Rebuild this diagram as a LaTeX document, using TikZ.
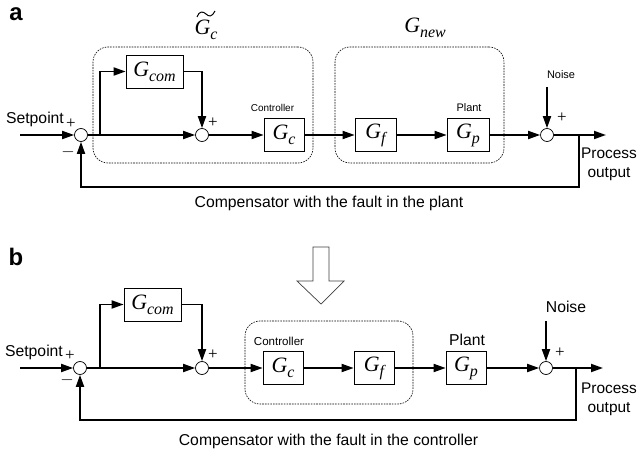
\documentclass[tikz,border=0pt]{standalone}
\usepackage{fontspec}
\setmainfont{Liberation Sans}
\newfontfamily\tms{Liberation Serif}
\usetikzlibrary{arrows.meta,calc}
\newcommand{\Gblk}[1]{{\tms\itshape\fontsize{22}{22}\selectfont G\raisebox{-5bp}{\fontsize{16}{16}\selectfont #1}}}
\newcommand{\txt}[1]{\fontsize{#1}{#1}\selectfont}
\begin{document}
\begin{tikzpicture}[x=1bp,y=-1bp,
  blk/.style={draw,line width=0.7bp,minimum height=33bp,inner sep=0pt},
  sumn/.style={draw,circle,line width=0.7bp,minimum size=13bp,inner sep=0pt,fill=white},
  sig/.style={line width=1.8bp,-{Triangle[length=12bp,width=8bp]}},
  dbox/.style={draw,dash pattern=on 1.6bp off 1.1bp,line width=0.6bp,rounded corners=15bp,inner sep=0pt},
  lbl/.style={inner sep=0pt,font=\txt{15.8}},
  two/.style={inner sep=0pt,align=center,font=\fontsize{15.5}{19}\selectfont},
  pm/.style={inner sep=0pt,font=\tms\fontsize{17}{17}\selectfont},
  panel/.style={inner sep=0pt,font=\bfseries\txt{24}}]
\clip (0,0) rectangle (638,453);
\fill[white] (0,0) rectangle (638,453);
% ---------------- panel a ----------------
\node[panel] (pa) at (16,14) {a};
\node[dbox,minimum width=220bp,minimum height=116bp] (abox1) at (203,105) {};
\node[dbox,minimum width=169bp,minimum height=116bp] (abox2) at (419.5,105) {};
\node[inner sep=0pt] (agt) at (206,30) {\Gblk{c}};
\draw[line width=1bp] (197,17) .. controls (199,11) and (203,11) .. (206,14) .. controls (209,17) and (212,17) .. (215,11);
\node[inner sep=0pt] (agn) at (425,28) {\Gblk{new}};
\coordinate (ain) at (20,135);
\node[sumn] (a1) at (81,135) {};
\coordinate (abr) at (100,135);
\node[blk,minimum width=57bp] (agcom) at (154.5,71.5) {\Gblk{com}};
\node[sumn] (a2) at (202,135) {};
\node[blk,minimum width=40bp] (agc) at (284,135) {\Gblk{c}};
\node[blk,minimum width=41bp] (agf) at (375.5,135) {\Gblk{f}};
\node[blk,minimum width=42bp] (agp) at (468,135) {\Gblk{p}};
\node[sumn] (a3) at (547,135) {};
\coordinate (aout) at (579,135);
\coordinate (aend) at (606,135);
\coordinate (anz) at (547,87);
\coordinate (afb) at (81,187);
\node[lbl] (asp) at (35,119) {Setpoint};
\node[pm] (ap1) at (71,124) {+};
\node[pm] (am1) at (68,152) {$-$};
\node[pm] (ap2) at (213,123) {+};
\node[pm] (ap3) at (562,118) {+};
\node[inner sep=0pt,font=\txt{10}] (actl) at (272.5,108) {Controller};
\node[inner sep=0pt,font=\txt{11}] (aplt) at (469,108) {Plant};
\node[inner sep=0pt,font=\txt{11}] (anoi) at (561,75) {Noise};
\node[two] (apo) at (609,164) {Process\\output};
\node[lbl] (acap) at (329,203) {Compensator with the fault in the plant};
\draw[sig] (ain) -- (a1);
\draw[sig] (a1) -- (a2);
\draw[sig] (abr) |- (agcom);
\draw[sig] (agcom) -| (a2);
\draw[sig] (a2) -- (agc);
\draw[sig] (agc) -- (agf);
\draw[sig] (agf) -- (agp);
\draw[sig] (agp) -- (a3);
\draw[sig] (a3) -- (aend);
\draw[sig] (anz) -- (a3);
\draw[sig] (aout) |- (afb) -- (a1);
% ---------------- arrow between ----------------
\draw[line width=0.7bp,draw=black!75] (313,247) -- (329,247) -- (329,281) -- (344,281) -- (321,304) -- (297,281) -- (313,281) -- cycle;
% ---------------- panel b ----------------
\node[panel] (pb) at (16,257) {b};
\node[dbox,minimum width=168bp,minimum height=83bp] (bbox) at (329,362.5) {};
\coordinate (bin) at (20,368);
\node[sumn] (b1) at (80,368) {};
\coordinate (bbr) at (100,368);
\node[blk,minimum width=57bp] (bgcom) at (152.5,304.5) {\Gblk{com}};
\node[sumn] (b2) at (202,368) {};
\node[blk,minimum width=40bp] (bgc) at (283,368) {\Gblk{c}};
\node[blk,minimum width=40bp] (bgf) at (374,368) {\Gblk{f}};
\node[blk,minimum width=40bp] (bgp) at (466,368) {\Gblk{p}};
\node[sumn] (b3) at (546,368) {};
\coordinate (bout) at (576,368);
\coordinate (bend) at (603,368);
\coordinate (bnz) at (546,321);
\coordinate (bfb) at (80,420);
\node[lbl] (bsp) at (34,352) {Setpoint};
\node[pm] (bp1) at (70,356) {+};
\node[pm] (bm1) at (67,380) {$-$};
\node[pm] (bp2) at (213,355) {+};
\node[pm] (bp3) at (560,353) {+};
\node[inner sep=0pt,font=\txt{11.6}] (bctl) at (279,341) {Controller};
\node[lbl] (bplt) at (467,340) {Plant};
\node[lbl] (bnoi) at (566,307) {Noise};
\node[two] (bpo) at (609,399) {Process\\output};
\node[lbl] (bcap) at (328.5,441) {Compensator with the fault in the controller};
\draw[sig] (bin) -- (b1);
\draw[sig] (b1) -- (b2);
\draw[sig] (bbr) |- (bgcom);
\draw[sig] (bgcom) -| (b2);
\draw[sig] (b2) -- (bgc);
\draw[sig] (bgc) -- (bgf);
\draw[sig] (bgf) -- (bgp);
\draw[sig] (bgp) -- (b3);
\draw[sig] (b3) -- (bend);
\draw[sig] (bnz) -- (b3);
\draw[sig] (bout) |- (bfb) -- (b1);
\end{tikzpicture}
\end{document}
